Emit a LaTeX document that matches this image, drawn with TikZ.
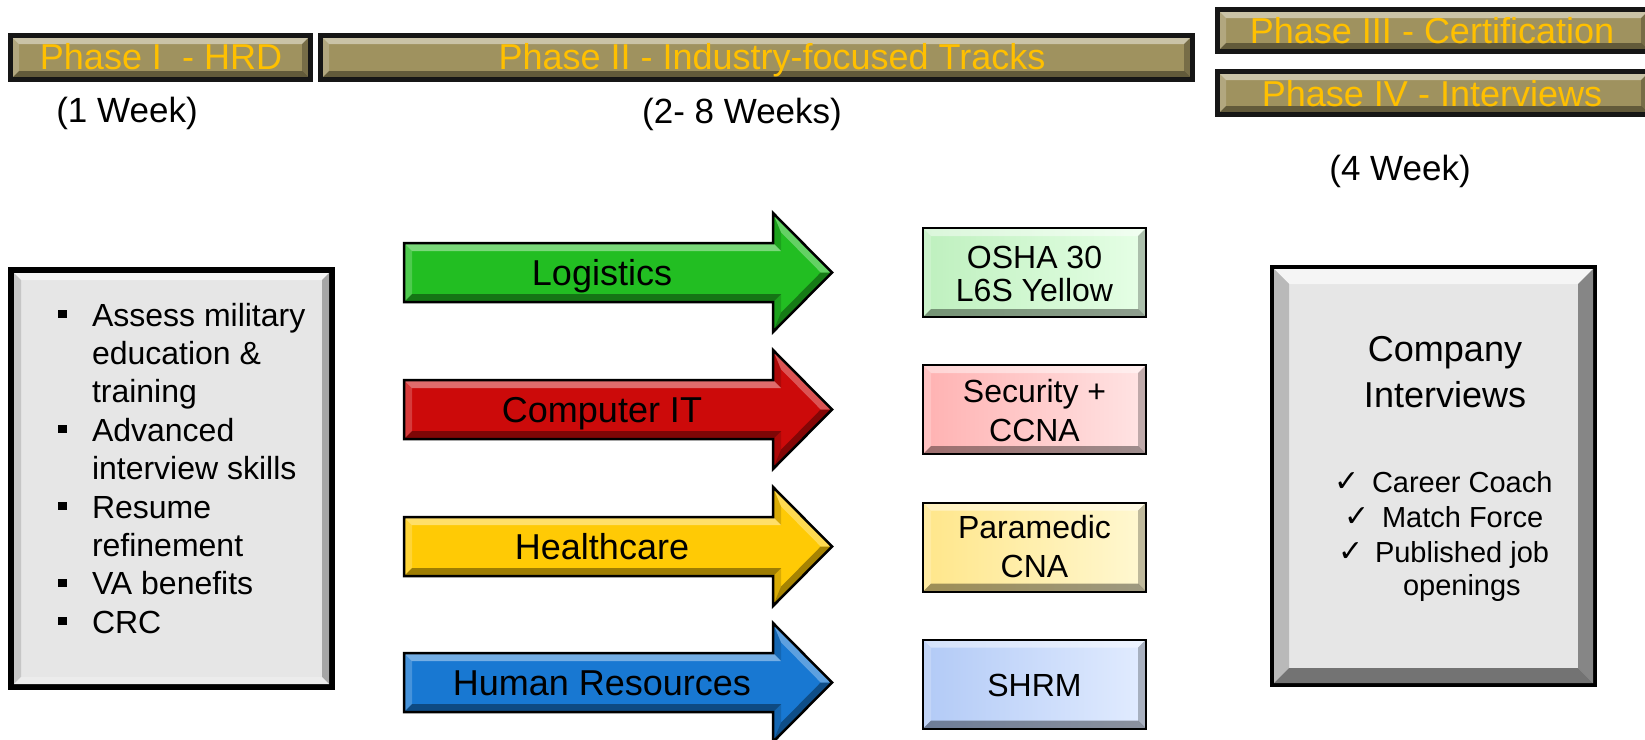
\documentclass[tikz,border=0pt]{standalone}
\usepackage{fontspec}
\setmainfont{Liberation Sans}
\newfontfamily\symfont{DejaVu Sans}
\usetikzlibrary{calc}

\definecolor{phasefill}{HTML}{9F925F}
\definecolor{phasegold}{HTML}{FFC000}
\definecolor{phaseedge}{HTML}{161616}
\definecolor{arrgreen}{HTML}{22BE22}
\definecolor{arrred}{HTML}{CC0A0A}
\definecolor{arryellow}{HTML}{FFCA05}
\definecolor{arrblue}{HTML}{1878D2}
\definecolor{panelfill}{HTML}{E6E6E6}
\definecolor{cgreenA}{HTML}{BEF0BE}
\definecolor{cgreenB}{HTML}{E6FFE6}
\definecolor{credA}{HTML}{FFB2B2}
\definecolor{credB}{HTML}{FFE4E4}
\definecolor{cyelA}{HTML}{FFE68A}
\definecolor{cyelB}{HTML}{FFF8D2}
\definecolor{cblueA}{HTML}{B2CAF6}
\definecolor{cblueB}{HTML}{E2ECFF}

% bevel overlay: x1 y1 x2 y2 width
\newcommand\bevelover[5]{%
  \fill[white,opacity=.45] (#1,#2) -- (#3,#2) -- ({#3-#5},{#2+#5}) -- ({#1+#5},{#2+#5}) -- cycle;
  \fill[white,opacity=.2] (#1,#2) -- ({#1+#5},{#2+#5}) -- ({#1+#5},{#4-#5}) -- (#1,#4) -- cycle;
  \fill[black,opacity=.25] (#3,#2) -- (#3,#4) -- ({#3-#5},{#4-#5}) -- ({#3-#5},{#2+#5}) -- cycle;
  \fill[black,opacity=.38] (#1,#4) -- (#3,#4) -- ({#3-#5},{#4-#5}) -- ({#1+#5},{#4-#5}) -- cycle;
}
% coloured bevel: x1 y1 x2 y2 width top left right bottom
\newcommand\bevelcol[9]{%
  \fill[#6] (#1,#2) -- (#3,#2) -- ({#3-#5},{#2+#5}) -- ({#1+#5},{#2+#5}) -- cycle;
  \fill[#7] (#1,#2) -- ({#1+#5},{#2+#5}) -- ({#1+#5},{#4-#5}) -- (#1,#4) -- cycle;
  \fill[#8] (#3,#2) -- (#3,#4) -- ({#3-#5},{#4-#5}) -- ({#3-#5},{#2+#5}) -- cycle;
  \fill[#9] (#1,#4) -- (#3,#4) -- ({#3-#5},{#4-#5}) -- ({#1+#5},{#4-#5}) -- cycle;
}
% phase bar: x1 y1 x2 y2
\newcommand\phasebar[4]{%
  \fill[phaseedge] (#1,#2) rectangle (#3,#4);
  \fill[phasefill] ({#1+5},{#2+5}) rectangle ({#3-5},{#4-5});
  \bevelover{#1+5}{#2+5}{#3-5}{#4-5}{6}
}
% track arrow: y-centre, colour
\newcommand\trackarrow[2]{%
  \fill[#2] (404,{#1-29.5}) -- (773,{#1-29.5}) -- (773,{#1-59.5}) -- (832,#1)
     -- (773,{#1+59.5}) -- (773,{#1+29.5}) -- (404,{#1+29.5}) -- cycle;
  \fill[white,opacity=.4] (404,{#1-29.5}) -- (773,{#1-29.5}) -- (781,{#1-21.5}) -- (412,{#1-21.5}) -- cycle;
  \fill[white,opacity=.2] (404,{#1-29.5}) -- (412,{#1-21.5}) -- (412,{#1+21.5}) -- (404,{#1+29.5}) -- cycle;
  \fill[black,opacity=.15] (773,{#1-29.5}) -- (773,{#1-59.5}) -- (781,{#1-40.2}) -- (781,{#1-21.5}) -- cycle;
  \fill[white,opacity=.3] (773,{#1-59.5}) -- (832,#1) -- (820.7,#1) -- (781,{#1-40.2}) -- cycle;
  \fill[black,opacity=.35] (832,#1) -- (773,{#1+59.5}) -- (781,{#1+40.2}) -- (820.7,#1) -- cycle;
  \fill[black,opacity=.15] (773,{#1+59.5}) -- (773,{#1+29.5}) -- (781,{#1+21.5}) -- (781,{#1+40.2}) -- cycle;
  \fill[black,opacity=.38] (773,{#1+29.5}) -- (404,{#1+29.5}) -- (412,{#1+21.5}) -- (781,{#1+21.5}) -- cycle;
  \draw[black,line width=2.5pt,line join=miter] (404,{#1-29.5}) -- (773,{#1-29.5}) -- (773,{#1-59.5}) -- (832,#1)
     -- (773,{#1+59.5}) -- (773,{#1+29.5}) -- (404,{#1+29.5}) -- cycle;
}
% certificate box: y-centre, left colour, right colour
\newcommand\certbox[3]{%
  \shade[left color=#2,right color=#3] (923,{#1-44.5}) rectangle (1146,{#1+44.5});
  \bevelover{923}{#1-44.5}{1146}{#1+44.5}{8}
  \draw[black,line width=2pt] (923,{#1-44.5}) rectangle (1146,{#1+44.5});
}

\tikzset{
  every node/.style={inner sep=0pt,outer sep=0pt},
  phasetxt/.style={text=phasegold,font=\fontsize{36}{40}\selectfont,anchor=base},
  weektxt/.style={font=\fontsize{35}{40}\selectfont,anchor=base},
  arrowtxt/.style={font=\fontsize{36}{40}\selectfont,anchor=base},
  certtxt/.style={align=center},
  listtxt/.style={font=\fontsize{32}{38}\selectfont,anchor=base west},
  checktxt/.style={font=\fontsize{29}{34}\selectfont,anchor=base west},
  checkmark/.style={font=\symfont\fontsize{30}{34}\selectfont,anchor=base},
  bulletsq/.style={fill=black},
}

\begin{document}
\begin{tikzpicture}[x=1pt,y=-1pt]
\useasboundingbox (0,0) rectangle (1645,739);
\fill[white] (0,0) rectangle (1645,739);

% ---- phase bars
\phasebar{8}{33}{313}{82}
\phasebar{318}{33}{1195}{82}
\phasebar{1215}{7}{1652}{54}
\phasebar{1215}{69}{1652}{117}
\node[phasetxt] (p1) at (161,69) {Phase I\ \ - HRD};
\node[phasetxt] (p2) at (772,69) {Phase II - Industry-focused Tracks};
\node[phasetxt] (p3) at (1432,43) {Phase III - Certification};
\node[phasetxt] (p4) at (1432,106) {Phase IV - Interviews};

% ---- durations
\node[weektxt] (w1) at (127,122) {(1 Week)};
\node[weektxt] (w2) at (742,123) {(2- 8 Weeks)};
\node[weektxt] (w4) at (1400,180) {(4 Week)};

% ---- left panel
\fill[black] (8,267) rectangle (335,690);
\fill[panelfill] (14,273) rectangle (329,684);
\bevelcol{14}{273}{329}{684}{7}{white!92!gray}{gray!45}{gray!70}{white!85!gray}
\foreach \yy in {326,441.2,518,594.8,633.2} {
  \fill[bulletsq] (58.3,\yy-16.2) rectangle (66.7,\yy-7.8);
}
\node[listtxt] (l1) at (92,326) {Assess military};
\node[listtxt] (l2) at (92,364.4) {education \&};
\node[listtxt] (l3) at (92,402.8) {training};
\node[listtxt] (l4) at (92,441.2) {Advanced};
\node[listtxt] (l5) at (92,479.6) {interview skills};
\node[listtxt] (l6) at (92,518) {Resume};
\node[listtxt] (l7) at (92,556.4) {refinement};
\node[listtxt] (l8) at (92,594.8) {VA benefits};
\node[listtxt] (l9) at (92,633.2) {CRC};

% ---- track arrows
\trackarrow{272.5}{arrgreen}
\trackarrow{409.5}{arrred}
\trackarrow{546.5}{arryellow}
\trackarrow{682.5}{arrblue}
\node[arrowtxt] (t1) at (602,285.5) {Logistics};
\node[arrowtxt] (t2) at (602,422.5) {Computer IT};
\node[arrowtxt] (t3) at (602,559.5) {Healthcare};
\node[arrowtxt] (t4) at (602,695.5) {Human Resources};

% ---- certificate boxes
\certbox{272.5}{cgreenA}{cgreenB}
\certbox{409.5}{credA}{credB}
\certbox{547}{cyelA}{cyelB}
\certbox{684}{cblueA}{cblueB}
\node[certtxt,font=\fontsize{32}{32.5}\selectfont] (c1) at (1034.5,273.9) {OSHA 30\\L6S Yellow};
\node[certtxt,font=\fontsize{32}{39}\selectfont] (c2) at (1034.5,410.5) {Security +\\CCNA};
\node[certtxt,font=\fontsize{32}{38.5}\selectfont] (c3) at (1034.5,546.6) {Paramedic\\CNA};
\node[font=\fontsize{32}{38}\selectfont,anchor=base] (c4) at (1034.5,696.7) {SHRM};

% ---- right panel
\fill[black] (1270,265) rectangle (1597,687);
\fill[panelfill] (1274,269) rectangle (1593,683);
\bevelcol{1274}{269}{1593}{683}{15}{white!92!gray}{gray!55}{gray!95}{gray!110}
\node[align=center,font=\fontsize{36}{46}\selectfont] (ci) at (1445,371.9) {Company\\Interviews};
\node[checkmark] (k1) at (1347,491) {✓};
\node[checktxt] (r1) at (1372,492) {Career Coach};
\node[checkmark] (k2) at (1357,526) {✓};
\node[checktxt] (r2) at (1382,527) {Match Force};
\node[checkmark] (k3) at (1351,561) {✓};
\node[checktxt] (r3) at (1375,562) {Published job};
\node[checktxt] (r4) at (1403,595) {openings};
\end{tikzpicture}
\end{document}
